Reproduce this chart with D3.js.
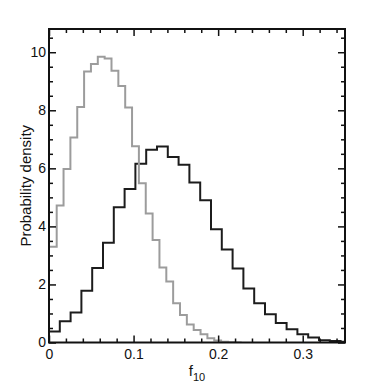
<!DOCTYPE html>
<html>
<head>
<meta charset="utf-8">
<script src="https://cdn.jsdelivr.net/npm/d3@7"></script>
<style>
  body { margin: 0; background: #fff; }
  svg text { font-family: "Liberation Sans", Arial, sans-serif; fill: #111; }
</style>
</head>
<body>
<script>
// histogram heights (probability density), one value per bin
const grayDensity = [3.30, 4.72, 5.98, 7.06, 8.11, 9.34, 9.59, 9.84, 9.78, 9.36, 8.84, 8.10,
  6.76, 5.49, 4.44, 3.53, 2.58, 2.10, 1.35, 0.95, 0.62, 0.43, 0.28, 0.15, 0.07, 0.03, 0.01, 0]
const blackDensity = [0.38, 0.73, 1.03, 1.78, 2.57, 3.44, 4.66, 5.29, 6.16, 6.64, 6.75, 6.39,
  6.12, 5.51, 4.90, 3.90, 3.20, 2.55, 1.86, 1.35, 0.97, 0.67, 0.46, 0.28, 0.17, 0.08, 0.05, 0.03]
const grayBins = {start: 0.001, width: 0.0081}
const blackBins = {start: 0, width: 0.01277}

const xTicks = [0, 0.1, 0.2, 0.3]
const xLabels = ['0', '0.1', '0.2', '0.3']
const yTicks = [0, 2, 4, 6, 8, 10]

vis()

function vis() {
  const width = 382
  const height = 386
  const margin = {top: 29, right: 37, bottom: 43.5, left: 49}
  const svg = d3.select('body').append('svg')
    .attr('width', width)
    .attr('height', height)

  const xScale = d3.scaleLinear()
    .domain([0, 0.35])
    .range([margin.left, width - margin.right])
  const yScale = d3.scaleLinear()
    .domain([0, 10.8])
    .range([height - margin.bottom, margin.top])

  svg.append('defs').append('clipPath').attr('id', 'plot')
    .append('rect')
    .attr('x', xScale(0)).attr('y', yScale(10.8))
    .attr('width', xScale(0.35) - xScale(0))
    .attr('height', yScale(0) - yScale(10.8))

  const toPoints = (vals, bins) => {
    const pts = vals.map((v, i) => [bins.start + i * bins.width, v])
    pts.push([bins.start + vals.length * bins.width, vals[vals.length - 1]])
    return pts
  }
  const line = d3.line()
    .x(d => xScale(d[0]))
    .y(d => yScale(d[1]))
    .curve(d3.curveStepAfter)

  const plot = svg.append('g').attr('clip-path', 'url(#plot)')
  plot.append('path')
    .attr('d', line(toPoints(blackDensity, blackBins)))
    .attr('fill', 'none')
    .attr('stroke', '#1c1c1c')
    .attr('stroke-width', 2)
  plot.append('path')
    .attr('d', line(toPoints(grayDensity, grayBins)))
    .attr('fill', 'none')
    .attr('stroke', '#9c9c9c')
    .attr('stroke-width', 2)

  const xMinor = d3.range(0, 0.351, 0.02).filter(v => Math.abs(v * 10 - Math.round(v * 10)) > 1e-6)
  const yMinor = d3.range(0, 10.8, 0.5).filter(v => v % 2 !== 0)

  const styleAxis = g => {
    g.select('.domain').remove()
    g.selectAll('line').attr('stroke', '#111').attr('stroke-width', 1.5)
    g.selectAll('text').attr('font-size', 14)
  }

  const bottom = svg.append('g').attr('transform', `translate(0,${yScale(0)})`)
  bottom.append('g')
    .call(d3.axisBottom(xScale).tickValues(xTicks).tickFormat((d, i) => xLabels[i]).tickSize(-7).tickPadding(6.5))
    .call(styleAxis)
  bottom.append('g')
    .call(d3.axisBottom(xScale).tickValues(xMinor).tickFormat('').tickSize(-4))
    .call(styleAxis)

  const top = svg.append('g').attr('transform', `translate(0,${yScale(10.8)})`)
  top.append('g')
    .call(d3.axisTop(xScale).tickValues(xTicks).tickFormat('').tickSize(-7))
    .call(styleAxis)
  top.append('g')
    .call(d3.axisTop(xScale).tickValues(xMinor).tickFormat('').tickSize(-4))
    .call(styleAxis)

  const left = svg.append('g').attr('transform', `translate(${xScale(0)},0)`)
  left.append('g')
    .call(d3.axisLeft(yScale).tickValues(yTicks).tickFormat(d3.format('d')).tickSize(-7).tickPadding(3))
    .call(styleAxis)
  left.append('g')
    .call(d3.axisLeft(yScale).tickValues(yMinor).tickFormat('').tickSize(-4))
    .call(styleAxis)

  const right = svg.append('g').attr('transform', `translate(${xScale(0.35)},0)`)
  right.append('g')
    .call(d3.axisRight(yScale).tickValues(yTicks).tickFormat('').tickSize(-7))
    .call(styleAxis)
  right.append('g')
    .call(d3.axisRight(yScale).tickValues(yMinor).tickFormat('').tickSize(-4))
    .call(styleAxis)

  // frame
  svg.append('rect')
    .attr('x', xScale(0)).attr('y', yScale(10.8))
    .attr('width', xScale(0.35) - xScale(0))
    .attr('height', yScale(0) - yScale(10.8))
    .attr('fill', 'none')
    .attr('stroke', '#111')
    .attr('stroke-width', 2)

  // axis titles
  const xt = svg.append('text')
    .attr('x', (xScale(0) + xScale(0.35)) / 2)
    .attr('y', 376)
    .attr('text-anchor', 'middle')
    .attr('font-size', 15)
  xt.append('tspan').text('f')
  xt.append('tspan').attr('font-size', 11).attr('dy', 5).text('10')

  svg.append('text')
    .attr('transform', `translate(31,${(yScale(0) + yScale(10.8)) / 2}) rotate(-90)`)
    .attr('text-anchor', 'middle')
    .attr('font-size', 15)
    .text('Probability density')
}
</script>
</body>
</html>
